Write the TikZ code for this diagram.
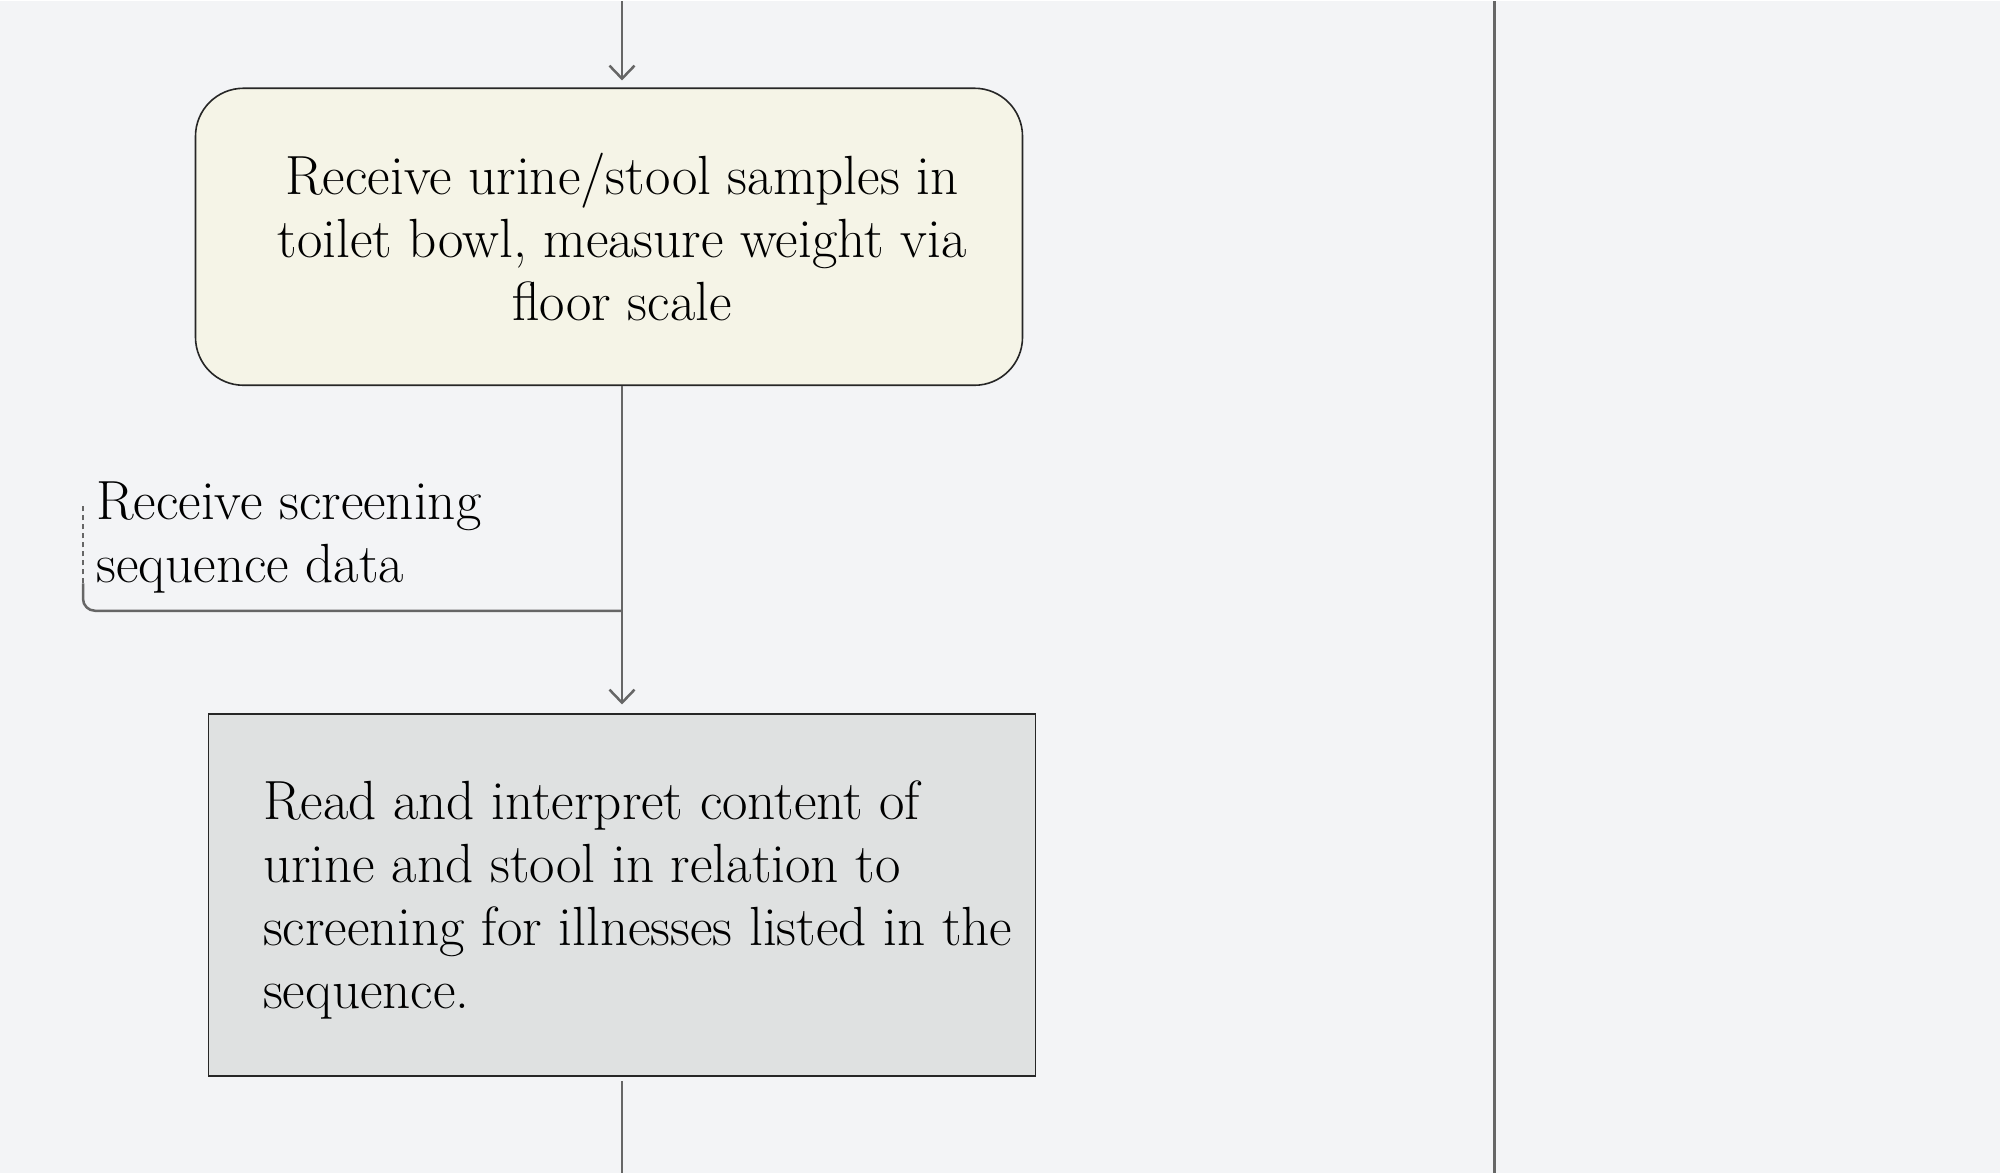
\documentclass[tikz,border=0pt]{standalone}
\usepackage{tikz}
\usetikzlibrary{arrows.meta}
\definecolor{paper}{HTML}{F3F4F6}
\definecolor{cream}{HTML}{F5F4E7}
\definecolor{slab}{HTML}{DFE1E1}
\definecolor{wire}{HTML}{666666}

\begin{document}
\begin{tikzpicture}[x=0.5pt,y=-0.5pt,>={Straight Barb[length=6.5pt,width=12.5pt]}]
  \tikzstyle{every node}=[font=\fontsize{27.6}{31.5}\selectfont]
  \tikzstyle{flow}=[draw=wire,line width=1.25pt]
  \tikzstyle{task}=[rectangle,draw=black!85,line width=0.8pt,inner sep=0pt,minimum width=413.5pt]
  \tikzstyle{event task}=[task,fill=cream,rounded corners=24pt,minimum height=148.5pt]
  \tikzstyle{manual task}=[task,fill=slab,minimum height=181pt]
  \tikzstyle{every label}=[inner sep=0pt,label distance=0pt]
  \tikzstyle{note}=[align=left,inner sep=0pt,anchor=west]

  \fill[paper] (0,0) rectangle (2000,1172);

  % lane boundary
  \coordinate (lane top) at (1494.5,0);
  \coordinate (lane end) at (1494.5,1172);
  \draw[flow] (lane top) -- (lane end);

  % tasks
  \coordinate (top) at (622,0);
  \node [event task,label={[align=center,xshift=6.5pt]center:Receive urine/stool samples in\\
     toilet bowl, measure weight via\\ floor scale}] (receive) at (609,235.5) {};
  \node [manual task,label={[align=left,anchor=west,xshift=27.5pt,yshift=-2.5pt]west:Read and interpret content of\\
     urine and stool in relation to\\
     screening for illnesses listed in the\\ sequence.}] (interpret) at (622,894) {};
  \node [note] (screening) at (96,536) {Receive screening\\ sequence data};
  \coordinate (bottom) at (622,1172);

  \draw[flow,->] (top) -- ([yshift=3.5pt]receive.north -| top);
  \draw[flow,->] (receive.south -| top) -- ([yshift=4.5pt]interpret.north);
  \draw[flow] ([yshift=-2pt]interpret.south) -- (bottom);

  % annotation
  \coordinate (join) at (622,609.5);
  \coordinate (hook) at (83,582);
  \draw[flow,rounded corners=6pt] (join) -- (join -| hook) -- (hook);
  \draw[wire,line width=1.25pt,dash pattern=on 2.5pt off 2pt] (hook) -- ++(0,-77);
\end{tikzpicture}
\end{document}
